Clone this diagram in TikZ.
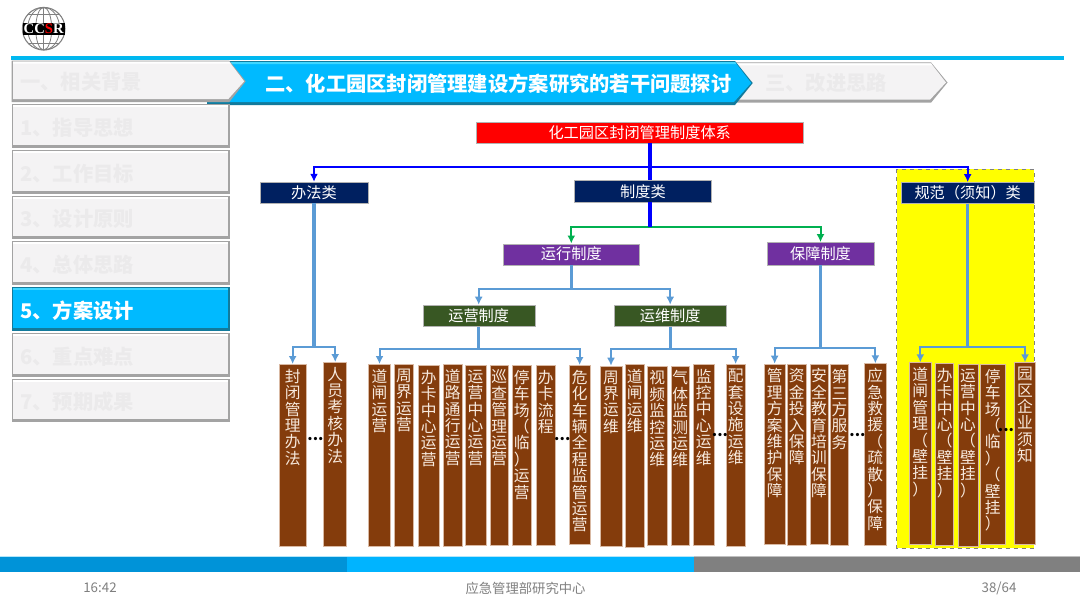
\documentclass[tikz,border=0pt]{standalone}
\usepackage{fontspec}
\setmainfont{Noto Sans CJK SC}
\newfontfamily\logofont{Liberation Serif}
\usepackage{xcolor}
\usetikzlibrary{arrows.meta}

\definecolor{topcyan}{HTML}{00B8F0}
\definecolor{tabface}{HTML}{F4F3F4}
\definecolor{tabedge}{HTML}{A3A3A3}
\definecolor{tabtext}{HTML}{EBEAEB}
\definecolor{actface}{HTML}{00BAFF}
\definecolor{actedge}{HTML}{127A9C}
\definecolor{acthigh}{HTML}{3FD6FF}
\definecolor{navybox}{HTML}{002060}
\definecolor{purplebox}{HTML}{7030A0}
\definecolor{olivebox}{HTML}{385723}
\definecolor{brownbox}{HTML}{843C0C}
\definecolor{brownedge}{HTML}{D9B9A3}
\definecolor{coltext}{HTML}{F7E9DD}
\definecolor{lineblue}{HTML}{5B9BD5}
\definecolor{greenbus}{HTML}{00B050}
\definecolor{footgray}{HTML}{7F7F7F}
\definecolor{barone}{HTML}{0093D8}
\definecolor{bartwo}{HTML}{00B4FF}
\definecolor{barthree}{HTML}{808080}
\definecolor{zoneyellow}{HTML}{FFFF00}

% vertical text column: one character per line
\newlength\colwd
\newcommand\vstack[1]{\vstackstep#1\relax}
\def\vstackstep#1{\ifx#1\relax\else\hbox to \colwd{\vrule height 9pt depth 3.3pt width 0pt\hss#1\hss}\expandafter\vstackstep\fi}
\newcommand\colnode[6]{%
  \pgfmathsetmacro\colw{(#3-#2)*0.75}%
  \pgfmathsetmacro\colh{(#5-#4)*0.75}%
  \pgfmathsetmacro\colx{(#2+#3)/2}%
  \setlength\colwd{\colw pt}%
  \node[colbox,minimum width=\colw pt,minimum height=\colh pt] (#1) at (\colx,#4)
    {\vbox to \colh pt{\baselineskip=12.3pt\lineskiplimit=-100pt\vskip 3.5pt\vstack{#6}\vss}};
}
% arrow shaped tab with a raised edge
\newcommand\tabshape[8]{%
  \pgfmathsetmacro\tabmid{(#4+#5)/2}%
  \fill[#7] (#1,#4) -- (#2,#4) -- (#3,\tabmid) -- (#2,#5) -- (#1,#5) -- cycle;
  \fill[#6] (#1+1.5,#4+1) -- (#2,#4+1) -- (#3-1.5,\tabmid) -- (#2-1,#5-3) -- (#1+1.5,#5-3) -- cycle;
  \fill[#8] (#1+1.5,#4+1) -- (#2,#4+1) -- (#2+1.5,#4+3) -- (#1+1.5,#4+3) -- cycle;
}

\tikzset{
  headbox/.style={draw=white!70!black,line width=0.3pt,text=white,inner sep=0pt,font=\fontsize{11.4pt}{12pt}\selectfont},
  colbox/.style={draw=brownedge,line width=0.5pt,fill=brownbox,text=coltext,anchor=north,inner sep=0pt,font=\fontsize{11.8pt}{12.3pt}\selectfont},
  tabtitle/.style={font=\bfseries\fontsize{15.2pt}{16pt}\selectfont,inner sep=0pt},
  moredots/.style={font=\bfseries\fontsize{11.5pt}{12pt}\selectfont,inner sep=0pt,text=black},
  foottext/.style={text=footgray,inner sep=0pt,font=\fontsize{10pt}{11pt}\selectfont},
  trunkblue/.style={draw=blue,line width=2.5pt},
  buslight/.style={draw=lineblue,line width=1.5pt,-{Latex[length=6pt,width=6pt]}},
  trunklight/.style={draw=lineblue,line width=2.5pt},
  busblue/.style={draw=blue,line width=1.5pt,-{Latex[length=6pt,width=6pt]}},
  busgreen/.style={draw=greenbus,line width=1.5pt,-{Latex[length=6pt,width=6pt]}},
}

\begin{document}
\begin{tikzpicture}[x=0.75pt,y=-0.75pt]
    \useasboundingbox[fill=white] (0,0) rectangle (1080,608);

    % logo
    \draw[gray,line width=0.8pt] (43.7,28.7) circle (21.3);
    \draw[gray,line width=0.6pt] (43.7,28.7) ellipse (8 and 21.3) (43.7,28.7) ellipse (16 and 21.3);
    \draw[gray,line width=0.6pt] (43.7,7.4) -- (43.7,50) (28,14) -- (59,14) (28,43.5) -- (59,43.5);
    \fill[black] (22.5,23.3) rectangle (65,35);
    \node[inner sep=0pt,text=white,font=\logofont\bfseries\fontsize{11pt}{11pt}\selectfont] (logotxt) at (43.7,29.2) {CC\textcolor{red}{S}R};

    % top rule and tabs
    \fill[topcyan] (11,55.7) rectangle (1064,60);
    \tabshape{700}{931}{947.5}{62.3}{102.7}{tabface}{tabedge}{white}
    \tabshape{207}{735}{752.7}{61}{105}{actface}{actedge}{acthigh}
    \tabshape{11.7}{229.3}{245.7}{60.7}{102}{tabface}{tabedge}{white}
    \node[tabtitle,text=tabtext,anchor=west] (tabone) at (20,82) {一、相关背景};
    \node[tabtitle,text=white,anchor=west] (tabtwo) at (265,83.5) {二、化工园区封闭管理建设方案研究的若干问题探讨};
    \node[tabtitle,text=tabtext,anchor=west] (tabthree) at (765,83) {三、改进思路};

    % side list
    \foreach \n/\txt/\facec/\edgec/\highc/\textc in {
        0/1、指导思想/tabface/tabedge/white/tabtext,
        1/2、工作目标/tabface/tabedge/white/tabtext,
        2/3、设计原则/tabface/tabedge/white/tabtext,
        3/4、总体思路/tabface/tabedge/white/tabtext,
        4/5、方案设计/actface/actedge/acthigh/white,
        5/6、重点难点/tabface/tabedge/white/tabtext,
        6/7、预期成果/tabface/tabedge/white/tabtext} {
      \pgfmathsetmacro\itemtop{104.3+45.7*\n}
      \fill[\edgec] (11.7,\itemtop) rectangle (229.5,\itemtop+43.7);
      \fill[\facec] (13.2,\itemtop+1) rectangle (227.5,\itemtop+40.7);
      \fill[\highc] (13.2,\itemtop+1) rectangle (227.5,\itemtop+3);
      \node[tabtitle,text=\textc,anchor=west] (item\n) at (20,\itemtop+23.5) {\txt};
    }

    % yellow zone
    \draw[fill=zoneyellow,draw=gray,dashed,line width=0.5pt] (896.7,169.3) rectangle (1034.3,548.3);

    % headers
    \node[headbox,fill=red,minimum width=245.5pt,minimum height=15.5pt] (sysbox) at (639.7,132.4) {化工园区封闭管理制度体系};
    \node[headbox,fill=navybox,minimum width=81pt,minimum height=15.75pt] (banfa) at (314,192.5) {办法类};
    \node[headbox,fill=navybox,minimum width=102.5pt,minimum height=16pt] (zhidu) at (643,191.3) {制度类};
    \node[headbox,fill=navybox,minimum width=100pt,minimum height=15.75pt] (guifan) at (967.7,192.8) {规范（须知）类};
    \node[headbox,fill=purplebox,minimum width=102pt,minimum height=15.75pt] (yunxing) at (571.3,254.2) {运行制度};
    \node[headbox,fill=purplebox,minimum width=80.25pt,minimum height=16.8pt] (baozhang) at (820.5,253.5) {保障制度};
    \node[headbox,fill=olivebox,minimum width=84pt,minimum height=16.3pt] (yunying) at (478.7,315.8) {运营制度};
    \node[headbox,fill=olivebox,minimum width=84.2pt,minimum height=16.3pt] (yunwei) at (670.2,315.8) {运维制度};

    % columns
    \colnode{fengbi}{279.3}{306}{364}{546}{封闭管理办法}
    \colnode{renyuan}{323.7}{346.7}{362}{546}{人员考核办法}

    \colnode{yyA}{368.3}{390.7}{364}{546}{道闸运营}
    \colnode{yyB}{394.3}{413.7}{364}{546}{周界运营}
    \colnode{yyC}{418}{439.3}{365}{546}{办卡中心运营}
    \colnode{yyD}{443}{462.7}{364}{546}{道路通行运营}
    \colnode{yyE}{465}{486}{365}{545}{运营中心运营}
    \colnode{yyF}{490}{508.7}{365}{545}{巡查管理运营}
    \colnode{yyG}{512}{531.3}{365}{545}{停车场（临）运营}
    \colnode{yyH}{536}{555.3}{365}{545}{办卡流程}
    \colnode{yyI}{569.3}{590}{365}{544}{危化车辆全程监管运营}

    \colnode{ywA}{600}{622}{365.7}{546}{周界运维}
    \colnode{ywB}{625.3}{644}{364}{546.7}{道闸运维}
    \colnode{ywC}{647.3}{667.3}{365.7}{545}{视频监控运维}
    \colnode{ywD}{671.3}{689.3}{365.7}{545}{气体监测运维}
    \colnode{ywE}{693.3}{714}{364}{545}{监控中心运维}
    \colnode{ywF}{726}{745.3}{364}{546}{配套设施运维}

    \colnode{bzA}{764.3}{785}{363.7}{544}{管理方案维护保障}
    \colnode{bzB}{787.3}{806}{363.7}{545}{资金投入保障}
    \colnode{bzC}{810}{828}{363.7}{544}{安全教育培训保障}
    \colnode{bzD}{830.7}{848.3}{364.3}{545}{第三方服务}
    \colnode{bzE}{864.7}{886}{363.3}{545}{应急救援（疏散）保障}

    \colnode{gfA}{909.3}{931.3}{362.3}{544}{道闸管理（壁挂）}
    \colnode{gfB}{935.7}{953.7}{363}{545}{办卡中心（壁挂）}
    \colnode{gfC}{958}{978}{364}{546}{运营中心（壁挂）}
    \colnode{gfD}{980.3}{1005}{364}{544}{停车场（临）（壁挂）}
    \colnode{gfE}{1014.7}{1035.3}{362.3}{544}{园区企业须知}

    % dots between columns
    \node[moredots] (dotsA) at (315.5,439) {...};
    \node[moredots] (dotsB) at (562.3,439) {...};
    \node[moredots] (dotsC) at (720,434.7) {...};
    \node[moredots] (dotsD) at (857.5,434.7) {...};
    \node[moredots] (dotsE) at (1006,429.7) {...};

    % connectors
    \coordinate (hub) at (650,166.7);
    \coordinate (greenhub) at (650,227.3);
    \coordinate (bfbus) at (314,346.7);
    \coordinate (yxbus) at (571.5,289.3);
    \coordinate (yybus) at (478.7,349.3);
    \coordinate (ywbus) at (670.7,348.5);
    \coordinate (bzbus) at (820.8,347.7);
    \coordinate (gfbus) at (967.7,346.7);

    \draw[busblue] (hub) -| (banfa.north);
    \draw[busblue] (hub) -| (guifan.north);
    \draw[trunkblue] (hub |- sysbox.south) -- (hub |- zhidu.north);
    \draw[busgreen] (greenhub) -| (yunxing.north);
    \draw[busgreen] (greenhub) -| (baozhang.north);
    \draw[trunkblue] (hub |- zhidu.south) -- (greenhub);

    \draw[trunklight] (yunxing.south -| yxbus) -- (yxbus);
    \draw[buslight] (yxbus) -| (yunying.north);
    \draw[buslight] (yxbus) -| (yunwei.north);

    \draw[trunklight] (banfa.south) -- (bfbus);
    \draw[buslight] (bfbus) -| (fengbi.north);
    \draw[buslight] (bfbus) -| (renyuan.north);

    \draw[trunklight] (yunying.south) -- (yybus);
    \draw[buslight] (yybus) -| (yyA.north);
    \draw[buslight] (yybus) -| (yyI.north);

    \draw[trunklight] (yunwei.south -| ywbus) -- (ywbus);
    \draw[buslight] (ywbus) -| (ywA.north);
    \draw[buslight] (ywbus) -| (ywF.north);

    \draw[trunklight] (baozhang.south -| bzbus) -- (bzbus);
    \draw[buslight] (bzbus) -| (bzA.north);
    \draw[buslight] (bzbus) -| (bzE.north);

    \draw[trunklight] (guifan.south) -- (gfbus);
    \draw[buslight] (gfbus) -| (gfA.north);
    \draw[buslight] (gfbus) -| (gfE.north);

    % footer
    \fill[white!70!cyan] (0,556) rectangle (694,572);
    \fill[black!25] (694,556) rectangle (1080,572);
    \fill[barone] (0,557) rectangle (347,571.5);
    \fill[bartwo] (347,557) rectangle (694,571.5);
    \fill[barthree] (694,557) rectangle (1080,571.5);
    \node[foottext] (foottime) at (100,588) {16:42};
    \node[foottext] (footorg) at (525.5,588) {应急管理部研究中心};
    \node[foottext] (footpage) at (999,588) {38/64};
\end{tikzpicture}
\end{document}
